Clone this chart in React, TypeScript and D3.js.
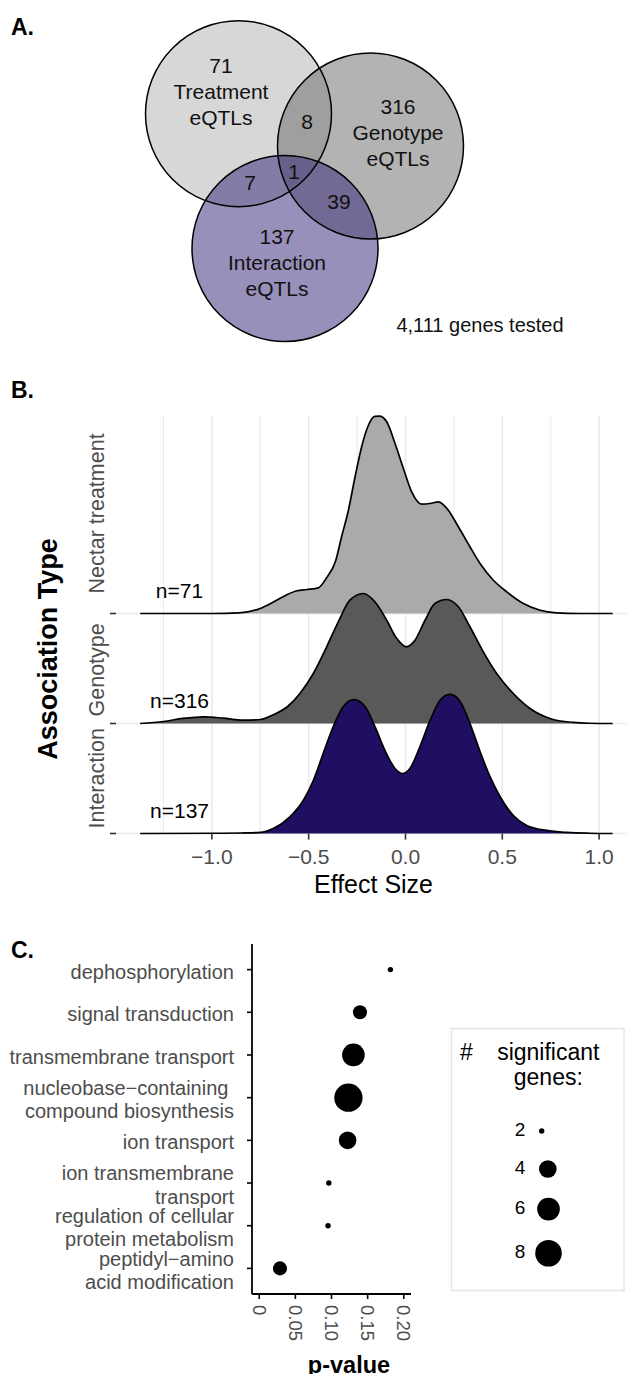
import React from "react";
import * as d3 from "d3";

const FONT = "'Liberation Sans', Arial, Helvetica, sans-serif";

// ---- A. Venn counts
const vennSetNames = ["Treatment", "Genotype", "Interaction"];
const vennSetCounts = [71, 316, 137];
const vennOverlapCounts = [8, 7, 39, 1]; // T&G, T&I, G&I, all three
const genesTested = 4111;

// ---- B. ridge densities, [effect size, density]
const ridgeCategories = ["Nectar treatment", "Genotype", "Interaction"];
const ridgeCounts = [71, 316, 137];

const nectarDensity: [number, number][] = [
  [-1.37, 0], [-1.0, 0], [-0.86, 0.009], [-0.75, 0.063], [-0.68, 0.146],
  [-0.61, 0.238], [-0.56, 0.284], [-0.51, 0.3], [-0.45, 0.321], [-0.41, 0.438],
  [-0.36, 0.663], [-0.33, 0.959], [-0.295, 1.288], [-0.26, 1.713], [-0.226, 2.088],
  [-0.192, 2.35], [-0.158, 2.463], [-0.135, 2.466], [-0.097, 2.396], [-0.054, 2.125],
  [-0.011, 1.813], [0.032, 1.521], [0.084, 1.366], [0.127, 1.375], [0.17, 1.396],
  [0.221, 1.291], [0.273, 1.084], [0.333, 0.834], [0.385, 0.625], [0.454, 0.416],
  [0.523, 0.271], [0.609, 0.125], [0.695, 0.041], [0.78, 0.009], [0.9, 0], [1.07, 0],
];

const genotypeDensity: [number, number][] = [
  [-1.37, 0], [-1.25, 0.025], [-1.15, 0.063], [-1.04, 0.084], [-0.94, 0.066],
  [-0.84, 0.041], [-0.75, 0.05], [-0.68, 0.113], [-0.61, 0.209], [-0.545, 0.375],
  [-0.476, 0.625], [-0.407, 0.959], [-0.347, 1.271], [-0.287, 1.541], [-0.218, 1.625],
  [-0.158, 1.521], [-0.097, 1.291], [-0.045, 1.063], [0.003, 0.959], [0.049, 1.041],
  [0.101, 1.291], [0.152, 1.5], [0.213, 1.55], [0.273, 1.459], [0.333, 1.209],
  [0.402, 0.896], [0.471, 0.625], [0.557, 0.375], [0.643, 0.188], [0.746, 0.063],
  [0.867, 0.013], [0.95, 0.003], [1.07, 0],
];

const interactionDensity: [number, number][] = [
  [-1.37, 0], [-0.95, 0.003], [-0.85, 0.006], [-0.75, 0.013], [-0.683, 0.063],
  [-0.597, 0.209], [-0.528, 0.413], [-0.476, 0.663], [-0.425, 1.0], [-0.373, 1.338],
  [-0.321, 1.588], [-0.266, 1.675], [-0.209, 1.588], [-0.158, 1.338], [-0.106, 1.038],
  [-0.054, 0.813], [-0.016, 0.75], [0.023, 0.813], [0.075, 1.088], [0.127, 1.413],
  [0.178, 1.663], [0.23, 1.738], [0.282, 1.65], [0.333, 1.375], [0.385, 1.025],
  [0.436, 0.713], [0.488, 0.463], [0.557, 0.225], [0.626, 0.1], [0.729, 0.038],
  [0.833, 0.013], [0.95, 0.003], [1.07, 0],
];

const ridgeSeries = [nectarDensity, genotypeDensity, interactionDensity];
const effectTicks = [-1, -0.5, 0, 0.5, 1];
const effectMinorTicks = [-1.25, -0.75, -0.25, 0.25, 0.75];

// ---- C. GO enrichment
const goTerms = [
  "dephosphorylation",
  "signal transduction",
  "transmembrane transport",
  "nucleobase\u2212containing \ncompound biosynthesis",
  "ion transport",
  "ion transmembrane\ntransport",
  "regulation of cellular\nprotein metabolism",
  "peptidyl\u2212amino\nacid modification",
];
const goPValues = [0.1815, 0.1394, 0.1303, 0.1234, 0.1223, 0.0963, 0.0952, 0.0287];
const goGeneCounts = [2, 3, 6, 9, 4, 2, 2, 3];
const pTicks = [0, 0.05, 0.1, 0.15, 0.2];
const pTickLabels = ["0", "0.05", "0.10", "0.15", "0.20"];
const legendGeneCounts = [2, 4, 6, 8];

// ---- layout / styles
const W = 627;
const H = 1374;
const venn = {
  r: 93,
  centers: [
    [238.5, 113.7],
    [370.5, 146],
    [285, 248.5],
  ],
  fills: ["#b0b0b0", "#676767", "#311f75"],
  setLabelPos: [
    [221, 66],
    [398, 107],
    [277, 237],
  ],
  overlapPos: [
    [307, 122],
    [250, 183],
    [339, 202],
    [294, 172],
  ],
};
const ridgeFills = ["#aaaaaa", "#595959", "#1f0e61"];
const ridgeLabelLift = [20, 7, 5];

function PanelA() {
  const fs = 21;
  const lineH = 26;
  return (
    <g fontFamily={FONT}>
      <text x={11} y={35} fontSize={23} fontWeight="bold">A.</text>
      {venn.centers.map(([cx, cy], i) => (
        <circle key={"f" + i} cx={cx} cy={cy} r={venn.r} fill={venn.fills[i]} fillOpacity={0.5} />
      ))}
      {venn.centers.map(([cx, cy], i) => (
        <circle key={"s" + i} cx={cx} cy={cy} r={venn.r} fill="none" stroke="#000" strokeWidth={1.5} />
      ))}
      {vennSetNames.map((name, i) => {
        const [x, y] = venn.setLabelPos[i];
        return [String(vennSetCounts[i]), name, "eQTLs"].map((t, j) => (
          <text key={name + j} x={x} y={y + j * lineH} dy="0.35em" textAnchor="middle" fontSize={fs} fill="#111">
            {t}
          </text>
        ));
      })}
      {vennOverlapCounts.map((c, i) => (
        <text key={"o" + i} x={venn.overlapPos[i][0]} y={venn.overlapPos[i][1]} dy="0.35em" textAnchor="middle" fontSize={fs} fill="#111">
          {c}
        </text>
      ))}
      <text x={480} y={325} dy="0.35em" textAnchor="middle" fontSize={20} fill="#111">
        {d3.format(",")(genesTested)} genes tested
      </text>
    </g>
  );
}

function PanelB() {
  const left = 116;
  const right = W;
  const top = 416;
  const x = d3.scaleLinear().domain([-1.495, 1.144]).range([left, right]);
  const base = d3.scalePoint<string>().domain(ridgeCategories).range([613.5, 833.5]);
  const h = d3.scaleLinear().domain([0, 1]).range([0, 80]);
  const bottom = base(ridgeCategories[ridgeCategories.length - 1])!;
  const fmt = d3.format(".1f");

  return (
    <g fontFamily={FONT}>
      <text x={11} y={398} fontSize={23} fontWeight="bold">B.</text>
      {effectMinorTicks.map((t) => (
        <line key={"m" + t} x1={x(t)} x2={x(t)} y1={top} y2={bottom} stroke="#ebebeb" strokeWidth={1.1} />
      ))}
      {effectTicks.map((t) => (
        <line key={"M" + t} x1={x(t)} x2={x(t)} y1={top} y2={bottom} stroke="#ebebeb" strokeWidth={1.7} />
      ))}
      {ridgeCategories.map((c) => (
        <line key={"h" + c} x1={left} x2={right} y1={base(c)} y2={base(c)} stroke="#ebebeb" strokeWidth={1.7} />
      ))}
      {ridgeCategories.map((c, i) => {
        const b = base(c)!;
        const area = d3
          .area<[number, number]>()
          .x((d) => x(d[0]))
          .y0(b)
          .y1((d) => b - h(d[1]))
          .curve(d3.curveMonotoneX);
        const line = d3
          .line<[number, number]>()
          .x((d) => x(d[0]))
          .y((d) => b - h(d[1]))
          .curve(d3.curveMonotoneX);
        return (
          <g key={c}>
            <path d={area(ridgeSeries[i]) || ""} fill={ridgeFills[i]} />
            <path d={line(ridgeSeries[i]) || ""} fill="none" stroke="#000" strokeWidth={1.7} />
          </g>
        );
      })}
      {ridgeCategories.map((c, i) => (
        <text key={"n" + c} x={x(-1.167)} y={base(c)! - 16} textAnchor="middle" fontSize={21} fill="#000">
          n={ridgeCounts[i]}
        </text>
      ))}
      {/* y axis */}
      {ridgeCategories.map((c, i) => (
        <g key={"y" + c}>
          <line x1={110} x2={left} y1={base(c)} y2={base(c)} stroke="#333" strokeWidth={1.6} />
          <text
            transform={`translate(96, ${base(c)! - ridgeLabelLift[i]}) rotate(-90)`}
            dy="0.35em"
            textAnchor="start"
            fontSize={21.5}
            fill="#4d4d4d"
          >
            {c}
          </text>
        </g>
      ))}
      <text transform="translate(48, 649) rotate(-90)" dy="0.35em" textAnchor="middle" fontSize={27} fontWeight="bold">
        Association Type
      </text>
      {/* x axis */}
      {effectTicks.map((t) => (
        <g key={"xt" + t}>
          <line x1={x(t)} x2={x(t)} y1={bottom} y2={bottom + 6} stroke="#333" strokeWidth={1.6} />
          <text x={x(t)} y={864} textAnchor="middle" fontSize={21} fill="#4d4d4d">
            {fmt(t)}
          </text>
        </g>
      ))}
      <text x={373.5} y={893} textAnchor="middle" fontSize={25}>Effect Size</text>
    </g>
  );
}

function PanelC() {
  const axisX = 252;
  const axisTop = 944;
  const axisY = 1294;
  const x = d3.scaleLinear().domain([-0.01, 0.21]).range([axisX, 411]);
  const y = d3.scalePoint<string>().domain(goTerms).range([axisTop, axisY]).padding(0.6);
  const t = d3.scaleLinear().domain([d3.min(goGeneCounts)!, d3.max(goGeneCounts)!]).range([0, 1]);
  const rs = d3.scaleLinear().domain([0, 1]).range([2.7, 14.15]);
  const r = (n: number) => rs(Math.sqrt(Math.max(0, t(n))));
  const lineH = 23.5;

  // legend keys: height grows with the point
  const keyH = legendGeneCounts.map((n) => Math.max(38, 2 * r(n) + 19.5));
  const keyY: number[] = [];
  legendGeneCounts.forEach((_, i) => {
    keyY.push(i === 0 ? 1131 : keyY[i - 1] + (keyH[i - 1] + keyH[i]) / 2);
  });

  return (
    <g fontFamily={FONT}>
      <text x={11} y={958} fontSize={23} fontWeight="bold">C.</text>
      {goTerms.map((term) => {
        const lines = term.split("\n");
        const y0 = y(term)! + 2 - ((lines.length - 1) * lineH) / 2;
        return (
          <g key={term}>
            <line x1={axisX - 5} x2={axisX} y1={y(term)} y2={y(term)} stroke="#000" strokeWidth={1.6} />
            {lines.map((l, j) => (
              <text key={j} x={234} y={y0 + j * lineH} dy="0.35em" textAnchor="end" fontSize={20} fill="#4d4d4d" style={{ whiteSpace: "pre" }}>
                {l}
              </text>
            ))}
          </g>
        );
      })}
      {goTerms.map((term, i) => (
        <circle key={"d" + term} cx={x(goPValues[i])} cy={y(term)} r={r(goGeneCounts[i])} fill="#000" />
      ))}
      <line x1={axisX} x2={axisX} y1={axisTop} y2={axisY} stroke="#000" strokeWidth={1.8} />
      <line x1={axisX} x2={411} y1={axisY} y2={axisY} stroke="#000" strokeWidth={1.8} />
      {pTicks.map((p, i) => (
        <g key={"pt" + p}>
          <line x1={x(p)} x2={x(p)} y1={axisY} y2={axisY + 5} stroke="#000" strokeWidth={1.6} />
          <text transform={`translate(${x(p)}, 1305) rotate(90)`} dy="0.35em" textAnchor="start" fontSize={18.5} fill="#4d4d4d">
            {pTickLabels[i]}
          </text>
        </g>
      ))}
      <text x={349} y={1373} textAnchor="middle" fontSize={23.5} fontWeight="bold">p-value</text>

      {/* legend */}
      <rect x={451.5} y={1028.5} width={172.5} height={262} fill="none" stroke="#e6e6e6" strokeWidth={1.6} />
      <text x={460} y={1060} fontSize={23}>#</text>
      <text x={548.3} y={1060} textAnchor="middle" fontSize={23}>significant</text>
      <text x={548.3} y={1085} textAnchor="middle" fontSize={23}>genes:</text>
      {legendGeneCounts.map((n, i) => (
        <g key={"lg" + n}>
          <text x={520} y={keyY[i] - 1.5} dy="0.35em" textAnchor="middle" fontSize={19}>
            {n}
          </text>
          <circle cx={535 + Math.min(13.5, 4 + r(n))} cy={keyY[i]} r={r(n)} fill="#000" />
        </g>
      ))}
    </g>
  );
}

export default function App() {
  return (
    <svg width={W} height={H} style={{ position: "absolute", left: 0, top: 0, background: "#fff" }}>
      <rect width={W} height={H} fill="#fff" />
      <PanelA />
      <PanelB />
      <PanelC />
    </svg>
  );
}
